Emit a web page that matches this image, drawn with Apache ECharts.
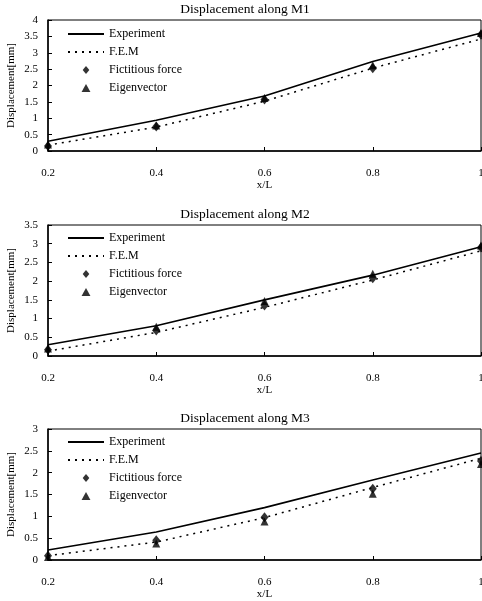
<!DOCTYPE html>
<html>
<head>
<meta charset="utf-8">
<script src="https://cdn.jsdelivr.net/npm/echarts@6/dist/echarts.min.js"></script>
<style>
html,body{margin:0;padding:0;background:#fff;}
#main{width:482px;height:601px;}
</style>
</head>
<body>
<div id="main"></div>
<script>
// x/L positions
var xs = [0.2, 0.4, 0.6, 0.8, 1];
var xTicks = ['0.2', '0.4', '0.6', '0.8', '1'];

// M1
var m1Exp = [0.3, 0.94, 1.68, 2.73, 3.6];
var m1Fem = [0.18, 0.73, 1.52, 2.53, 3.42];
var m1Fict = [0.15, 0.75, 1.57, 2.53, 3.55];
var m1Eig = [0.2, 0.78, 1.62, 2.62, 3.6];

// M2
var m2Exp = [0.3, 0.81, 1.5, 2.16, 2.92];
var m2Fem = [0.13, 0.63, 1.3, 2.03, 2.81];
var m2Fict = [0.17, 0.68, 1.35, 2.08, 2.9];
var m2Eig = [0.2, 0.78, 1.47, 2.2, 2.95];

// M3
var m3Exp = [0.23, 0.64, 1.2, 1.83, 2.45];
var m3Fem = [0.1, 0.41, 0.97, 1.66, 2.33];
var m3Fict = [0.1, 0.45, 0.98, 1.63, 2.27];
var m3Eig = [0.07, 0.38, 0.88, 1.52, 2.2];

var titles = ['Displacement along M1', 'Displacement along M2', 'Displacement along M3'];
var yMax = [4, 3.5, 3];
var gridTops = [20, 225, 429];
var legendTops = [28, 232, 436];
var panels = [
    [m1Exp, m1Fem, m1Fict, m1Eig],
    [m2Exp, m2Fem, m2Fict, m2Eig],
    [m3Exp, m3Fem, m3Fict, m3Eig]
];

var serif = 'Liberation Serif';
// legend icons that keep their shape
var diamondIcon = 'path://M5,0L10,6L5,12L0,6Z';
var triangleIcon = 'path://M5,0L10,9L0,9Z';

function pairs(vals){
    return vals.map(function(v, i){ return [xs[i], v]; });
}

var option = {
    animation: false,
    backgroundColor: '#fff',
    textStyle: {fontFamily: serif, color: '#000'},
    title: [], grid: [], xAxis: [], yAxis: [], legend: [], series: []
};

panels.forEach(function(p, k){
    option.title.push({
        text: titles[k], left: 245, top: gridTops[k] - 18, textAlign: 'center', padding: 0,
        textStyle: {fontFamily: serif, fontSize: 13.5, fontWeight: 'normal', color: '#000'}
    });
    option.grid.push({
        left: 48, right: 1, top: gridTops[k], height: 131, outerBoundsMode: 'none',
        show: true, borderColor: '#000', borderWidth: 1
    });
    option.xAxis.push({
        type: 'value', gridIndex: k, min: 0.2, max: 1, interval: 0.2,
        name: 'x/L', nameLocation: 'middle', nameGap: 29, nameMoveOverlap: false,
        nameTextStyle: {fontFamily: serif, fontSize: 11, color: '#000'},
        axisLine: {lineStyle: {color: '#000', width: 1.5}},
        axisTick: {inside: true, length: 4, lineStyle: {color: '#000'}},
        axisLabel: {margin: 17, fontFamily: serif, fontSize: 11, color: '#000',
            formatter: function(v){ return xTicks[Math.round((v - 0.2) / 0.2)]; }},
        splitLine: {show: false}
    });
    option.yAxis.push({
        type: 'value', gridIndex: k, min: 0, max: yMax[k], interval: 0.5,
        name: 'Displacement[mm]', nameLocation: 'middle', nameGap: 31, nameMoveOverlap: false,
        nameTextStyle: {fontFamily: serif, fontSize: 11, color: '#000'},
        axisLine: {show: true, lineStyle: {color: '#000', width: 1.5}},
        axisTick: {show: true, inside: true, length: 4, lineStyle: {color: '#000'}},
        axisLabel: {margin: 10, fontFamily: serif, fontSize: 11, color: '#000'},
        splitLine: {show: false}
    });
    option.legend.push({
        orient: 'vertical', left: 67, top: legendTops[k], padding: 0,
        itemWidth: 36, itemHeight: 8, itemGap: 6,
        textStyle: {fontFamily: serif, fontSize: 12, color: '#000'},
        data: [
            {name: 'Experiment'},
            {name: 'F.E.M'},
            {name: 'Fictitious force', icon: diamondIcon},
            {name: 'Eigenvector', icon: triangleIcon}
        ]
    });
    option.series.push({
        name: 'Experiment', type: 'line', xAxisIndex: k, yAxisIndex: k,
        data: pairs(p[0]), symbol: 'none',
        itemStyle: {color: 'rgba(0,0,0,0)'},
        lineStyle: {color: '#000', width: 1.6}
    });
    option.series.push({
        name: 'F.E.M', type: 'line', xAxisIndex: k, yAxisIndex: k,
        data: pairs(p[1]), symbol: 'none',
        itemStyle: {color: 'rgba(0,0,0,0)'},
        lineStyle: {color: '#000', width: 1.5, type: [2, 5]}
    });
    option.series.push({
        name: 'Fictitious force', type: 'scatter', xAxisIndex: k, yAxisIndex: k,
        data: pairs(p[2]), symbol: 'diamond', symbolSize: [8, 10],
        itemStyle: {color: '#000'}
    });
    option.series.push({
        name: 'Eigenvector', type: 'scatter', xAxisIndex: k, yAxisIndex: k,
        data: pairs(p[3]), symbol: 'triangle', symbolSize: [8, 8],
        itemStyle: {color: '#000'}
    });
});

var chart = echarts.init(document.getElementById('main'));
chart.setOption(option);
</script>
</body>
</html>
